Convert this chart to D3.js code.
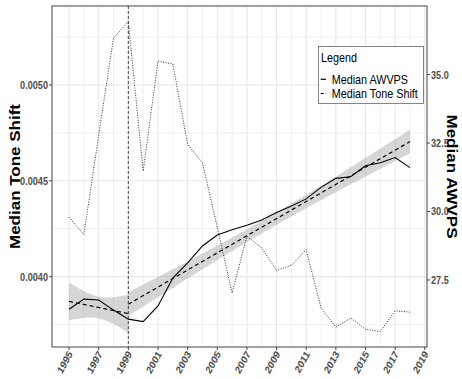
<!DOCTYPE html>
<html>
<head>
<meta charset="utf-8">
<script src="https://cdn.jsdelivr.net/npm/d3@7"></script>
<style>
body { margin: 0; background: #fff; }
svg { display: block; font-family: "Liberation Sans", Arial, sans-serif; }
</style>
</head>
<body>
<div id="chart"></div>
<script>
var years = [1995, 1996, 1997, 1998, 1999, 2000, 2001, 2002, 2003, 2004, 2005, 2006,
    2007, 2008, 2009, 2010, 2011, 2012, 2013, 2014, 2015, 2016, 2017, 2018];
var toneShift = [0.004310, 0.004220, 0.004738, 0.005245, 0.005331, 0.004551, 0.005124, 0.005110,
    0.004691, 0.004594, 0.004257, 0.003915, 0.004211, 0.004150, 0.004033, 0.004059,
    0.004141, 0.003836, 0.003737, 0.003784, 0.003726, 0.003714, 0.003822, 0.003815];
var awvps = [26.43, 26.80, 26.77, 26.40, 26.07, 25.98, 26.55, 27.57, 28.12, 28.74, 29.14, 29.33,
    29.50, 29.69, 29.96, 30.20, 30.46, 30.88, 31.21, 31.27, 31.67, 31.78, 31.97, 31.60];
var breakYear = 1999;
var xTicks = [1995, 1997, 1999, 2001, 2003, 2005, 2007, 2009, 2011, 2013, 2015, 2017, 2019];
var xMinor = [1996, 1998, 2000, 2002, 2004, 2006, 2008, 2010, 2012, 2014, 2016, 2018];
var leftTicks = [0.0040, 0.0045, 0.0050];
var leftMinor = [0.00375, 0.00425, 0.00475, 0.00525];
var rightTicks = [27.5, 30.0, 32.5, 35.0];
var legendLabels = ["Median AWVPS", "Median Tone Shift"];

// secondary axis: awvps = tone * secMul + secAdd
var secMul = 7000, secAdd = -0.38;
// t quantiles (97.5%) for the lm confidence band
var tq = {3: 3.182446, 18: 2.100922};

var width = 462,
    height = 379,
    margin = {top: 6, right: 35, bottom: 32, left: 52},
    squeeze = 0.83;

function pad(ext, f) {
    var d = (ext[1] - ext[0]) * f;
    return [ext[0] - d, ext[1] + d];
}

var x = d3.scaleLinear().domain(pad(d3.extent(years), 0.05)).range([margin.left, width - margin.right]);
var yL = d3.scaleLinear().domain(pad(d3.extent(toneShift), 0.05)).range([height - margin.bottom, margin.top]);
var yR = d3.scaleLinear().domain(yL.domain().map(function(t) { return t * secMul + secAdd; })).range(yL.range());

var svg = d3.select("#chart").append("svg").attr("width", width).attr("height", height);

var x0 = margin.left, x1 = width - margin.right, y0 = margin.top, y1 = height - margin.bottom;

// grid
var grid = svg.append("g");
grid.selectAll(".vminor").data(xMinor).enter().append("line")
    .attr("x1", function(d) { return x(d); }).attr("x2", function(d) { return x(d); })
    .attr("y1", y0).attr("y2", y1).attr("stroke", "#f0f0f0").attr("stroke-width", 1);
grid.selectAll(".hminor").data(leftMinor).enter().append("line")
    .attr("y1", function(d) { return yL(d); }).attr("y2", function(d) { return yL(d); })
    .attr("x1", x0).attr("x2", x1).attr("stroke", "#f0f0f0").attr("stroke-width", 1);
grid.selectAll(".vmajor").data(xTicks).enter().append("line")
    .attr("x1", function(d) { return x(d); }).attr("x2", function(d) { return x(d); })
    .attr("y1", y0).attr("y2", y1).attr("stroke", "#e8e8e8").attr("stroke-width", 1.1);
grid.selectAll(".hmajor").data(leftTicks).enter().append("line")
    .attr("y1", function(d) { return yL(d); }).attr("y2", function(d) { return yL(d); })
    .attr("x1", x0).attr("x2", x1).attr("stroke", "#e8e8e8").attr("stroke-width", 1.1);

// linear fit with 95% band
function fitLine(xs, ys) {
    var n = xs.length,
        mx = d3.mean(xs),
        my = d3.mean(ys),
        sxx = d3.sum(xs, function(v) { return (v - mx) * (v - mx); }),
        sxy = d3.sum(xs, function(v, i) { return (v - mx) * (ys[i] - my); }),
        b = sxy / sxx,
        a = my - b * mx,
        s2 = d3.sum(xs, function(v, i) { var r = ys[i] - (a + b * v); return r * r; }) / (n - 2),
        t = tq[n - 2];
    return d3.range(81).map(function(k) {
        var xv = xs[0] + (xs[n - 1] - xs[0]) * k / 80,
            fit = a + b * xv,
            se = Math.sqrt(s2 * (1 / n + (xv - mx) * (xv - mx) / sxx));
        return {x: xv, fit: fit, lo: fit - t * se, hi: fit + t * se};
    });
}

var seg1 = years.filter(function(d) { return d <= breakYear; });
var seg2 = years.filter(function(d) { return d >= breakYear; });
var fits = [
    fitLine(seg1, seg1.map(function(d) { return awvps[years.indexOf(d)]; })),
    fitLine(seg2, seg2.map(function(d) { return awvps[years.indexOf(d)]; }))
];

var area = d3.area().x(function(d) { return x(d.x); })
    .y0(function(d) { return yR(d.lo); }).y1(function(d) { return yR(d.hi); });
svg.selectAll(".band").data(fits).enter().append("path")
    .attr("d", area).attr("fill", "#999999").attr("fill-opacity", 0.4);

var toneLine = d3.line().x(function(d, i) { return x(years[i]); }).y(function(d) { return yL(d); });
svg.append("path").attr("d", toneLine(toneShift)).attr("fill", "none")
    .attr("stroke", "#333").attr("stroke-width", 1).attr("stroke-dasharray", "1,1.5");

var awLine = d3.line().x(function(d, i) { return x(years[i]); }).y(function(d) { return yR(d); });
svg.append("path").attr("d", awLine(awvps)).attr("fill", "none")
    .attr("stroke", "#000").attr("stroke-width", 1.1);

var fitPath = d3.line().x(function(d) { return x(d.x); }).y(function(d) { return yR(d.fit); });
svg.selectAll(".fit").data(fits).enter().append("path")
    .attr("d", fitPath).attr("fill", "none")
    .attr("stroke", "#000").attr("stroke-width", 1.2).attr("stroke-dasharray", "4,3");

svg.append("line").attr("x1", x(breakYear)).attr("x2", x(breakYear))
    .attr("y1", y0).attr("y2", y1).attr("stroke", "#333").attr("stroke-width", 0.9)
    .attr("stroke-dasharray", "3,2");

// panel border
svg.append("rect").attr("x", x0).attr("y", y0).attr("width", x1 - x0).attr("height", y1 - y0)
    .attr("fill", "none").attr("stroke", "#444").attr("stroke-width", 1);

function place(sel, px, py, rot) {
    sel.attr("transform", "translate(" + px + "," + py + ") scale(" + squeeze + ",1)" + (rot ? " rotate(" + rot + ")" : ""));
}

// left axis
var fmtL = d3.format(".4f"), fmtR = d3.format(".1f");
leftTicks.forEach(function(d) {
    svg.append("line").attr("x1", x0 - 3).attr("x2", x0).attr("y1", yL(d)).attr("y2", yL(d))
        .attr("stroke", "#444");
    svg.append("text").text(fmtL(d)).attr("text-anchor", "end").attr("dy", "0.36em")
        .attr("font-size", 11).attr("font-weight", "bold").attr("fill", "#4d4d4d")
        .call(place, x0 - 4, yL(d));
});
rightTicks.forEach(function(d) {
    svg.append("line").attr("x1", x1).attr("x2", x1 + 3).attr("y1", yR(d)).attr("y2", yR(d))
        .attr("stroke", "#444");
    svg.append("text").text(fmtR(d)).attr("text-anchor", "start").attr("dy", "0.36em")
        .attr("font-size", 11).attr("font-weight", "bold").attr("fill", "#4d4d4d")
        .call(place, x1 + 4, yR(d));
});
xTicks.forEach(function(d) {
    svg.append("line").attr("x1", x(d)).attr("x2", x(d)).attr("y1", y1).attr("y2", y1 + 3)
        .attr("stroke", "#444");
    svg.append("text").text(d).attr("text-anchor", "end")
        .attr("font-size", 11).attr("font-weight", "bold").attr("fill", "#4d4d4d")
        .call(place, x(d) + 4, y1 + 7, -57);
});

// axis titles
svg.append("text").text("Median Tone Shift").attr("text-anchor", "middle")
    .attr("font-size", 17).attr("font-weight", "bold").attr("fill", "#000")
    .call(place, 20, (y0 + y1) / 2, -90);
svg.append("text").text("Median AWVPS").attr("text-anchor", "middle")
    .attr("font-size", 17).attr("font-weight", "bold").attr("fill", "#000")
    .call(place, 447, (y0 + y1) / 2, 90);

// legend
var lg = svg.append("g");
lg.append("rect").attr("x", 318.5).attr("y", 46.5).attr("width", 105).attr("height", 57)
    .attr("fill", "#fff").attr("stroke", "#666").attr("stroke-width", 0.8);
lg.append("text").text("Legend").attr("font-size", 13).attr("fill", "#000").call(place, 321, 61.5);
legendLabels.forEach(function(d, i) {
    var ky = 79.3 + i * 14.2;
    lg.append("line").attr("x1", 320.7).attr("x2", 326).attr("y1", ky).attr("y2", ky)
        .attr("stroke", "#000").attr("stroke-width", 1.2)
        .attr("stroke-dasharray", i === 1 ? "3,2" : null);
    lg.append("text").text(d).attr("font-size", 13).attr("fill", "#000").call(place, 331.7, ky + 4.2);
});
</script>
</body>
</html>
